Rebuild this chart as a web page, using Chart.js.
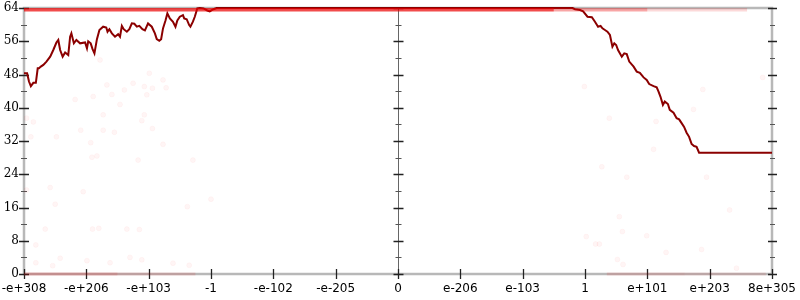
<!DOCTYPE html>
<html>
<head>
<meta charset="utf-8">
<script src="https://cdn.jsdelivr.net/npm/chart.js@4.4.1/dist/chart.umd.min.js"></script>
<style>
  html, body { margin: 0; padding: 0; background: #fff; }
  #wrap { width: 800px; height: 300px; position: relative; }
</style>
</head>
<body>
<div id="wrap"><canvas id="chart"></canvas></div>
<script>
// x axis runs on 13 evenly spaced ticks, index -6..6
const xTickLabels = ['-e+308', '-e+206', '-e+103', '-1', '-e-102', '-e-205', '0',
                     'e-206', 'e-103', '1', 'e+101', 'e+203', '8e+305'];

// main curve (dark red)
const lineX = [-6, -5.95, -5.92, -5.89, -5.85, -5.81, -5.78, -5.76, -5.73, -5.69, -5.64, -5.58, -5.53,
  -5.48, -5.45, -5.42, -5.38, -5.34, -5.29, -5.26, -5.24, -5.2, -5.16, -5.1, -5.02, -4.99, -4.97,
  -4.93, -4.9, -4.87, -4.83, -4.79, -4.73, -4.68, -4.66, -4.63, -4.59, -4.54, -4.49, -4.46, -4.43,
  -4.4, -4.35, -4.31, -4.27, -4.23, -4.19, -4.15, -4.1, -4.06, -4.01, -3.95, -3.9, -3.87, -3.83,
  -3.8, -3.77, -3.73, -3.7, -3.66, -3.61, -3.57, -3.54, -3.5, -3.45, -3.43, -3.39, -3.35, -3.33,
  -3.29, -3.26, -3.22, -3.18, -3.12, -3.06, -3.02, -2.96, -2.91, 2.8,
  2.84, 2.92, 2.97, 3.04, 3.11, 3.16, 3.21, 3.25, 3.28, 3.32, 3.36, 3.4, 3.44, 3.47, 3.5, 3.53,
  3.59, 3.63, 3.67, 3.71, 3.78, 3.83, 3.88, 3.94, 3.99, 4.03, 4.1, 4.15, 4.18, 4.21, 4.25, 4.28,
  4.33, 4.36, 4.42, 4.47, 4.51, 4.55, 4.59, 4.63, 4.67, 4.71, 4.75, 4.79, 4.83, 6];
const lineY = [48.3, 48.3, 46.3, 45.2, 46.0, 46.0, 49.5, 49.5, 49.9, 50.3, 51.1, 52.3, 53.9,
  55.7, 56.3, 53.9, 52.3, 53.3, 52.7, 57.1, 57.9, 55.5, 56.3, 55.5, 55.7, 54.3, 56.0,
  55.5, 54.1, 53.1, 56.5, 58.7, 59.5, 59.3, 58.3, 58.9, 57.9, 57.1, 57.7, 57.1, 59.7,
  58.9, 58.3, 58.9, 60.3, 60.2, 59.5, 59.7, 58.9, 58.6, 60.3, 59.5, 57.9, 56.5, 56.1,
  56.5, 59.1, 61.0, 62.7, 61.5, 60.7, 59.5, 61.0, 61.9, 62.3, 61.5, 61.3, 59.9, 59.5,
  60.7, 61.9, 63.9, 64, 63.9, 63.4, 63.2, 63.7, 64, 64,
  63.7, 63.5, 63.2, 61.9, 61.8, 60.7, 59.5, 59.7, 59.1, 58.7, 58.3, 57.5, 54.7, 55.5, 55.1, 53.9,
  52.3, 53.1, 52.9, 51.1, 49.9, 48.7, 48.4, 47.3, 46.7, 45.7, 45.2, 44.9, 43.9, 42.7, 40.7, 41.5,
  40.9, 39.5, 38.8, 37.5, 37.2, 36.3, 35.4, 34.0, 33.0, 31.3, 30.8, 30.6, 29.2, 29.2];

// faint scattered samples
const scatterX = [-4.78, -4.67, -4.59, -4.39, -4.25, -3.99, -4.07, -3.94, -4.03, -3.77, -3.72, -5.18,
  -4.89, -4.46, -4.73, -4.07, -4.11, -5.85, -5.96, -5.09, -4.73, -4.55, -3.94, -5.89, -5.48, -4.93,
  -3.77, -4.91, -4.83, -4.17, -3.29, -5.58, -5.5, -5.05, -5.96, -3.0, -3.38, -5.66, -4.9, -4.8,
  -4.35, -4.15, -5.81, -5.81, -5.42, -5.54, -4.99, -4.62, -4.3, -4.11, -3.61, -3.35,
  2.99, 3.39, 4.14, 4.89, 4.74, 5.85, 4.1, 3.27, 3.67, 4.95, 5.32, 3.55, 3.6, 3.99, 3.02, 3.17,
  3.23, 4.3, 4.87, 3.52, 3.61, 5.43];
const scatterY = [51.5, 45.5, 43.2, 44.3, 45.9, 48.3, 45.1, 44.7, 43.1, 46.7, 44.8, 42.0,
  42.7, 40.8, 38.3, 38.3, 36.9, 36.6, 37.5, 34.6, 34.6, 34.1, 35.0, 33.0, 33.0, 31.6,
  31.2, 28.1, 28.4, 27.4, 27.4, 20.8, 16.8, 19.8, 20.2, 18.0, 16.2, 10.8, 10.8, 11.0,
  10.8, 10.7, 7.0, 2.7, 3.8, 2.0, 3.2, 2.7, 4.0, 3.4, 2.6, 2.1,
  45.1, 37.5, 36.7, 44.4, 39.6, 47.3, 30.0, 25.8, 23.3, 23.3, 15.4, 13.8, 10.2, 9.2, 9.0, 7.2,
  7.2, 5.2, 5.9, 3.5, 2.3, 1.4];

// dense bands of samples sitting on the top and bottom limits
const topBandX = [-6, 2.5, 4.0, 5.6];
const topBandY = [63.6, 63.6, 63.6, 63.6];
const bottomLeftX = [-6, -4.5, -3.25];
const bottomLeftY = [0, 0, 0];
const bottomRightX = [3.35, 4.6, 5.9];
const bottomRightY = [0, 0, 0];

const toPoints = (xs, ys) => xs.map((x, i) => ({ x: x, y: ys[i] }));

// fade along a band, one alpha per segment
function fade(alphas) {
    return ctx => 'rgba(235,0,0,' + alphas[ctx.p0DataIndex] + ')';
}

// gnuplot-like frame, tick marks and the centre axis
const framePlugin = {
    id: 'frame',
    beforeDatasetsDraw(chart) {
        const { ctx, chartArea: a, scales: { x, y } } = chart;
        ctx.save();
        ctx.strokeStyle = '#b8b8b8';
        ctx.lineWidth = 2.5;
        ctx.strokeRect(a.left, a.top, a.right - a.left, a.bottom - a.top);

        // centre axis at x = 0
        const cx = Math.round(x.getPixelForValue(0)) + 0.5;
        ctx.strokeStyle = '#666';
        ctx.lineWidth = 1;
        ctx.beginPath();
        ctx.moveTo(cx, a.top);
        ctx.lineTo(cx, a.bottom);
        ctx.stroke();

        for (let v = 0; v <= 64; v += 4) {
            const py = Math.round(y.getPixelForValue(v)) + 0.5;
            const len = v % 8 === 0 ? 5 : 3;
            ctx.lineWidth = v % 8 === 0 ? 1.3 : 1;
            ctx.strokeStyle = v % 8 === 0 ? '#222' : '#555';
            ctx.beginPath();
            ctx.moveTo(a.left - len, py); ctx.lineTo(a.left + len, py);
            ctx.moveTo(cx - len, py); ctx.lineTo(cx + len, py);
            ctx.moveTo(a.right - len + 1, py); ctx.lineTo(a.right + len, py);
            ctx.stroke();
        }
        ctx.strokeStyle = '#222';
        ctx.lineWidth = 1.3;
        for (let i = -6; i <= 6; i++) {
            const px = Math.round(x.getPixelForValue(i)) + 0.5;
            ctx.beginPath();
            ctx.moveTo(px, a.bottom - 5);
            ctx.lineTo(px, a.bottom + 5);
            ctx.stroke();
        }
        ctx.restore();
    }
};

new Chart(document.getElementById('chart'), {
    type: 'scatter',
    data: {
        datasets: [
            {
                type: 'line',
                data: toPoints(topBandX, topBandY),
                borderWidth: 3.5,
                segment: { borderColor: fade([0.7, 0.35, 0.15]) },
                pointRadius: 0,
                clip: false
            },
            {
                type: 'line',
                data: toPoints(bottomLeftX, bottomLeftY),
                borderWidth: 3,
                segment: { borderColor: fade([0.22, 0.12]) },
                pointRadius: 0,
                clip: false
            },
            {
                type: 'line',
                data: toPoints(bottomRightX, bottomRightY),
                borderWidth: 3,
                segment: { borderColor: fade([0.12, 0.09]) },
                pointRadius: 0,
                clip: false
            },
            {
                data: toPoints(scatterX, scatterY),
                backgroundColor: 'rgba(255,0,0,0.04)',
                borderColor: 'rgba(255,0,0,0.03)',
                pointRadius: 2.5
            },
            {
                type: 'line',
                data: toPoints(lineX, lineY),
                borderColor: '#8b0000',
                borderWidth: 2,
                pointRadius: 0,
                tension: 0,
                clip: false
            }
        ]
    },
    options: {
        responsive: true,
        maintainAspectRatio: false,
        animation: false,
        events: [],
        layout: { padding: { top: 8, right: 28, left: 0, bottom: 0 } },
        plugins: { legend: { display: false }, tooltip: { enabled: false } },
        scales: {
            x: {
                type: 'linear',
                min: -6,
                max: 6,
                afterFit: s => {
                    s.height = 26;
                    s.paddingLeft = 0;
                    s.paddingRight = 0;
                },
                grid: { display: false, drawTicks: false },
                border: { display: false },
                ticks: {
                    stepSize: 1,
                    padding: 8,
                    color: '#000',
                    maxRotation: 0,
                    autoSkip: false,
                    font: { family: 'DejaVu Sans', size: 12 },
                    callback: v => xTickLabels[v + 6]
                }
            },
            y: {
                min: 0,
                max: 64,
                afterFit: s => {
                    s.width = 24;
                    s.paddingTop = 0;
                    s.paddingBottom = 0;
                },
                grid: { display: false, drawTicks: false },
                border: { display: false },
                ticks: {
                    stepSize: 8,
                    padding: 5,
                    color: '#000',
                    font: { family: 'DejaVu Serif', size: 12 }
                }
            }
        }
    },
    plugins: [framePlugin]
});
</script>
</body>
</html>
